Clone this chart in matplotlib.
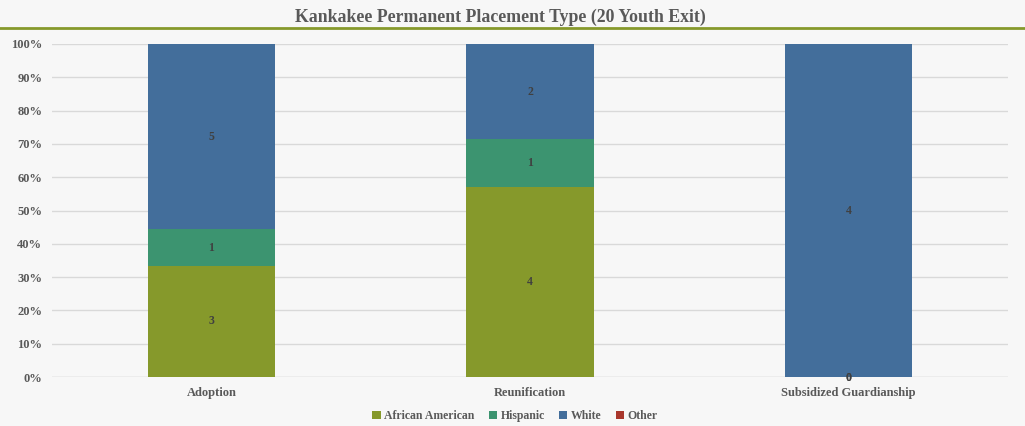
import matplotlib
matplotlib.use("Agg")
import matplotlib.pyplot as plt
from matplotlib.ticker import PercentFormatter
import numpy as np

categories = ["Adoption", "Reunification", "Subsidized Guardianship"]
series = ["African American", "Hispanic", "White", "Other"]
counts = {
    "African American": [3, 4, 0],
    "Hispanic": [1, 1, 0],
    "White": [5, 2, 4],
    "Other": [0, 0, 0],
}
colors = {
    "African American": "#86992b",
    "Hispanic": "#3c9470",
    "White": "#436e9b",
    "Other": "#a9372c",
}

TEXT = "#595959"
plt.rcParams["font.family"] = ["Liberation Serif", "DejaVu Serif"]
plt.rcParams["font.weight"] = "bold"

fig = plt.figure(figsize=(10.25, 4.26), dpi=100, facecolor="#f7f7f7")
ax = fig.add_axes([52 / 1025, 49 / 426, 956 / 1025, 333 / 426])
ax.set_facecolor("#f7f7f7")

x = np.arange(len(categories))
totals = np.sum([counts[s] for s in series], axis=0)
bottom = np.zeros(len(categories))
for s in series:
    vals = np.array(counts[s], dtype=float)
    pct = vals / totals
    ax.bar(x, pct, 0.4, bottom=bottom, color=colors[s], label=s, zorder=2)
    for i in range(len(categories)):
        # zero labels only appear for guardianship in the original
        show = vals[i] > 0 or (i == 2 and s in ("African American", "Hispanic"))
        if show:
            ax.text(x[i], bottom[i] + pct[i] / 2 - (0.003 if vals[i] == 0 else 0), "%d" % vals[i],
                    ha="center", va="center", fontsize=8.5, color="#404040",
                    fontweight="bold", zorder=3)
    bottom += pct

ax.set_xlim(-0.5, len(categories) - 0.5)
ax.set_ylim(0, 1)
ax.set_yticks(np.arange(0, 1.01, 0.1))
ax.yaxis.set_major_formatter(PercentFormatter(1.0, decimals=0))
ax.set_xticks(x)
ax.set_xticklabels(categories)
ax.tick_params(length=0, labelsize=9, colors=TEXT)
ax.tick_params(axis="x", pad=7)
ax.tick_params(axis="y", pad=7)
ax.grid(axis="y", color="#d9d9d9", linewidth=1, zorder=0)
for sp in ax.spines.values():
    sp.set_visible(False)
ax.axhline(0, color="#d9d9d9", linewidth=1, zorder=1)

fig.text(500 / 1025, 1 - 17 / 426, "Kankakee Permanent Placement Type (20 Youth Exit)",
         ha="center", va="center", fontsize=12.8, color=TEXT, fontweight="bold")
fig.add_artist(plt.Line2D([0, 1], [1 - 28 / 426, 1 - 28 / 426], color="#86992b", linewidth=2,
                          transform=fig.transFigure))

leg = fig.legend(loc="center", bbox_to_anchor=(515 / 1025, 1 - 416 / 426), ncol=4, frameon=False,
                 fontsize=8.5, handlelength=0.7, handleheight=0.7, handletextpad=0.3,
                 columnspacing=1.2, labelcolor=TEXT)

fig.savefig("out.png", dpi=100, facecolor=fig.get_facecolor())
